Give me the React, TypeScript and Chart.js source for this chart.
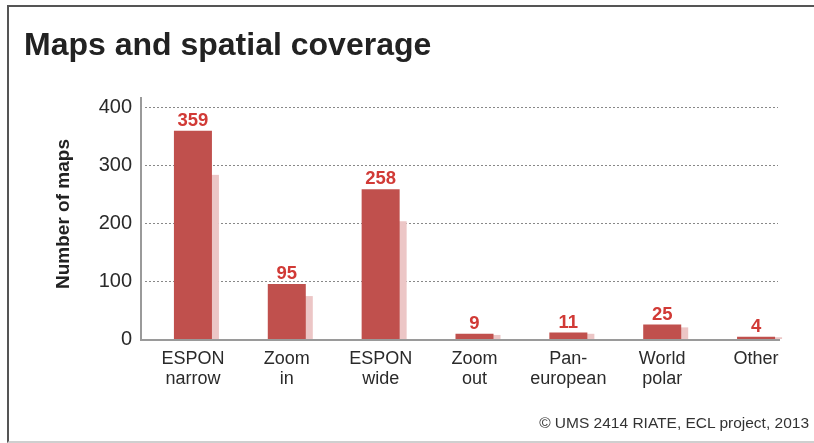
import React, { useEffect, useRef } from 'react';
import { Chart, registerables } from 'chart.js';

Chart.register(...registerables);

const categories: string[][] = [
  ['ESPON', 'narrow'],
  ['Zoom', 'in'],
  ['ESPON', 'wide'],
  ['Zoom', 'out'],
  ['Pan-', 'european'],
  ['World', 'polar'],
  ['Other'],
];
const mapCounts = [359, 95, 258, 9, 11, 25, 4];
const shadowCounts = [283, 74, 203, 7, 9, 20, 3];
const yTickValues = [0, 100, 200, 300, 400];
const titleText = 'Maps and spatial coverage';
const yAxisTitle = 'Number of maps';
const creditText = '\u00A9 UMS 2414 RIATE, ECL project, 2013';

const FONT = '"Liberation Sans", Arial, Helvetica, sans-serif';
const BAR_RED = '#c0504d';
const SHADOW_PINK = '#ecc6c6';
const LABEL_RED = '#d13a36';

const decorPlugin = {
  id: 'decor',
  beforeDatasetsDraw(chart: any) {
    const { ctx, chartArea, scales } = chart;
    const y = scales.y;
    const axisLeft = chartArea.left - 5;
    const gridRight = 778;
    ctx.save();
    // dotted grid lines
    ctx.strokeStyle = '#888';
    ctx.lineWidth = 1;
    ctx.setLineDash([2, 2]);
    yTickValues.forEach((v) => {
      if (v === 0) return;
      const py = Math.round(y.getPixelForValue(v)) + 0.5;
      ctx.beginPath();
      ctx.moveTo(axisLeft + 4, py);
      ctx.lineTo(gridRight, py);
      ctx.stroke();
    });
    ctx.setLineDash([]);
    // shadow bars
    const meta = chart.getDatasetMeta(0);
    const base = y.getPixelForValue(0);
    ctx.fillStyle = SHADOW_PINK;
    meta.data.forEach((bar: any, i: number) => {
      const top = y.getPixelForValue(shadowCounts[i]);
      const w = bar.width;
      ctx.fillRect(bar.x - w / 2 + 7, top, w, base - top);
    });
    ctx.restore();
  },
  afterDatasetsDraw(chart: any) {
    const { ctx, chartArea, scales } = chart;
    const y = scales.y;
    const axisLeft = chartArea.left - 5;
    const base = y.getPixelForValue(0);
    ctx.save();
    // axes
    ctx.strokeStyle = '#9a9a9a';
    ctx.lineWidth = 2;
    ctx.beginPath();
    ctx.moveTo(axisLeft, chartArea.top - 10);
    ctx.lineTo(axisLeft, base + 1);
    ctx.lineTo(780, base + 1);
    ctx.stroke();
    // value labels
    const meta = chart.getDatasetMeta(0);
    ctx.fillStyle = LABEL_RED;
    ctx.font = 'bold 18.5px ' + FONT;
    ctx.textAlign = 'center';
    ctx.textBaseline = 'alphabetic';
    meta.data.forEach((bar: any, i: number) => {
      ctx.fillText(String(mapCounts[i]), bar.x, bar.y - 5);
    });
    // y axis title
    ctx.translate(64, 214);
    ctx.rotate(-Math.PI / 2);
    ctx.fillStyle = '#222';
    ctx.font = 'bold 19px ' + FONT;
    ctx.textBaseline = 'middle';
    ctx.fillText(yAxisTitle, 0, 0);
    ctx.restore();
  },
};

export default function App() {
  const ref = useRef<HTMLCanvasElement>(null);
  useEffect(() => {
    if (!ref.current) return;
    const chart = new Chart(ref.current, {
      type: 'bar',
      data: {
        labels: categories,
        datasets: [
          {
            data: mapCounts,
            backgroundColor: BAR_RED,
            borderWidth: 0,
            barPercentage: 0.405,
            categoryPercentage: 1,
          },
        ],
      },
      options: {
        animation: false,
        responsive: false,
        maintainAspectRatio: false,
        events: [],
        layout: { padding: { left: 54, top: 107, right: 11, bottom: 44 } },
        plugins: { legend: { display: false }, tooltip: { enabled: false }, title: { display: false } },
        scales: {
          x: {
            grid: { display: false },
            border: { display: false },
            afterFit: (s: any) => {
              s.height = 60;
            },
            ticks: {
              color: '#2a2a2a',
              font: { family: FONT, size: 18, lineHeight: 1.1 },
              padding: 2,
              maxRotation: 0,
              autoSkip: false,
            },
          },
          y: {
            min: 0,
            max: 400,
            grid: { display: false, drawTicks: false },
            border: { display: false },
            afterFit: (s: any) => {
              s.width = 92;
            },
            ticks: {
              stepSize: 100,
              color: '#2a2a2a',
              font: { family: FONT, size: 20 },
              padding: 14,
            },
          },
        },
      },
      plugins: [decorPlugin],
    });
    return () => chart.destroy();
  }, []);

  return (
    <div style={{ position: 'absolute', left: 0, top: 0, width: 814, height: 443, background: '#fff', overflow: 'hidden' }}>
      <div
        style={{
          position: 'absolute',
          left: 7,
          top: 5,
          width: 814 - 9,
          height: 434,
          borderLeft: '2px solid #555',
          borderTop: '2px solid #555',
          borderBottom: '2px solid #cfcfcf',
        }}
      />
      <canvas ref={ref} width={814} height={443} style={{ position: 'absolute', left: 0, top: 0, width: 814, height: 443 }} />
      <div
        style={{
          position: 'absolute',
          left: 24,
          top: 28,
          fontFamily: FONT,
          fontWeight: 'bold',
          fontSize: 32,
          lineHeight: '32px',
          color: '#222',
          whiteSpace: 'nowrap',
        }}
      >
        {titleText}
      </div>
      <div
        style={{
          position: 'absolute',
          right: 5,
          top: 415,
          fontFamily: FONT,
          fontSize: 15.5,
          lineHeight: '15.5px',
          color: '#333',
          whiteSpace: 'nowrap',
        }}
      >
        {creditText}
      </div>
    </div>
  );
}
